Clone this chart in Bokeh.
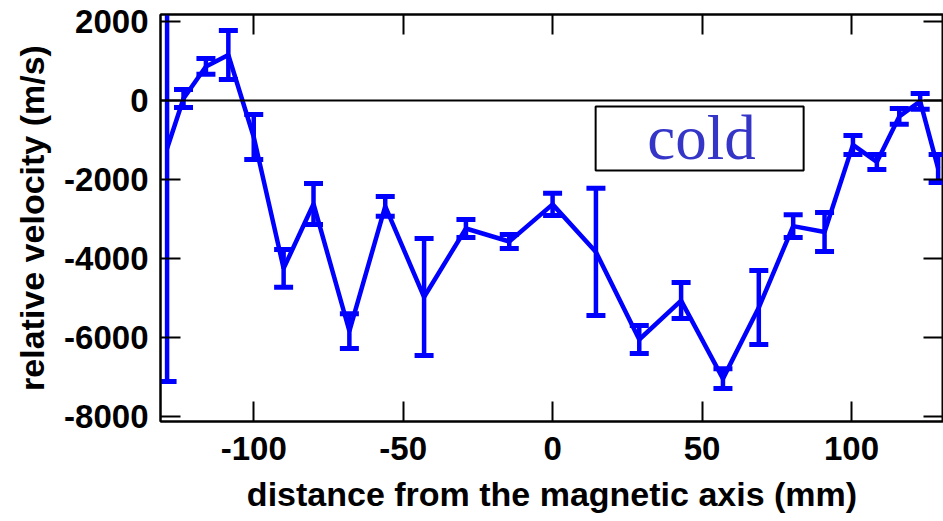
from bokeh.plotting import figure
from bokeh.models import (Range1d, LinearAxis, FixedTicker, Span, Label,
                          BoxAnnotation, ColumnDataSource)
from bokeh.embed import file_html
from bokeh.resources import INLINE

# ---- data ----
distance_mm = [-129, -123.5, -116, -108.5, -100, -90, -80, -68, -56, -43,
               -29, -14.5, 0, 14.5, 29, 43, 57, 69, 80.5, 91,
               100.5, 108.5, 116, 123, 129]
velocity = [-1215, 50, 860, 1150, -925, -4250, -2620, -5835, -2680, -4975,
            -3240, -3570, -2630, -3835, -6050, -5065, -7040, -5240, -3180, -3330,
            -1125, -1555, -405, -25, -1720]
error = [5900, 230, 200, 620, 570, 480, 520, 440, 250, 1480,
         230, 180, 280, 1610, 355, 455, 250, 935, 290, 495,
         240, 190, 200, 200, 355]
x_ticks = [-100, -50, 0, 50, 100]
y_ticks = [-8000, -6000, -4000, -2000, 0, 2000]
label_text = "cold"

upper = [v + e for v, e in zip(velocity, error)]
lower = [v - e for v, e in zip(velocity, error)]
src = ColumnDataSource(dict(x=distance_mm, y=velocity, up=upper, lo=lower))

BLUE = "#0000ff"
FONT = "Liberation Sans"

p = figure(width=943, height=521, output_backend="svg", toolbar_location=None,
           x_range=Range1d(-131.2, 130.8), y_range=Range1d(-8125, 2175),
           min_border_left=160, min_border_right=0, min_border_top=14,
           min_border_bottom=100)
p.background_fill_color = "white"
p.border_fill_color = "white"
p.outline_line_color = "black"
p.outline_line_width = 2
p.grid.visible = False

# zero line
p.add_layout(Span(location=0, dimension="width", line_color="black", line_width=2))

# error bars
p.segment(x0="x", y0="lo", x1="x", y1="up", source=src, line_color=BLUE, line_width=4.5)
p.scatter(x="x", y="up", source=src, marker="dash", size=19, line_width=5, line_color=BLUE)
p.scatter(x="x", y="lo", source=src, marker="dash", size=19, line_width=5, line_color=BLUE)
# main line
p.line(x="x", y="y", source=src, line_color=BLUE, line_width=4.5)

# axes styling
def style_axis(ax, labels=True):
    ax.major_tick_in = 20
    ax.major_tick_out = 0
    ax.minor_tick_line_color = None
    ax.major_tick_line_width = 2
    ax.major_tick_line_color = "black"
    ax.axis_line_width = 2
    ax.axis_line_color = "black"
    if labels:
        ax.major_label_text_font = FONT
        ax.major_label_text_font_style = "bold"
        ax.major_label_text_font_size = "33px"
        ax.major_label_text_color = "black"
        ax.axis_label_text_font = FONT
        ax.axis_label_text_font_style = "bold"
        ax.axis_label_text_font_size = "34px"
        ax.axis_label_text_color = "black"
    else:
        ax.major_label_text_font_size = "1px"
        ax.major_label_text_color = None
        ax.major_label_standoff = 0
        ax.axis_label = None

p.xaxis.ticker = FixedTicker(ticks=x_ticks)
p.yaxis.ticker = FixedTicker(ticks=y_ticks)
p.xaxis.major_label_overrides = {t: str(t) for t in x_ticks}
p.yaxis.major_label_overrides = {t: str(t) for t in y_ticks}
style_axis(p.xaxis[0])
style_axis(p.yaxis[0])
p.xaxis.axis_label = "distance from the magnetic axis (mm)"
p.yaxis.axis_label = "relative velocity (m/s)"
p.xaxis.major_label_standoff = 15
p.xaxis.axis_label_standoff = 12
p.yaxis.major_label_standoff = 12
p.yaxis.axis_label_standoff = 10

top_ax = LinearAxis(ticker=FixedTicker(ticks=x_ticks))
style_axis(top_ax, labels=False)
p.add_layout(top_ax, "above")
right_ax = LinearAxis(ticker=FixedTicker(ticks=y_ticks))
style_axis(right_ax, labels=False)
p.add_layout(right_ax, "right")

# "cold" box
p.add_layout(BoxAnnotation(left=14.4, right=84, top=-152, bottom=-1772,
                           fill_alpha=0, line_color="black", line_alpha=1,
                           line_width=2))
p.add_layout(Label(x=49.8, y=-962, text=label_text, text_align="center",
                   text_baseline="alphabetic", text_font="Liberation Serif",
                   text_font_size="63px", text_color="#3535c8"))

open("out.html", "w").write(file_html(p, INLINE))
